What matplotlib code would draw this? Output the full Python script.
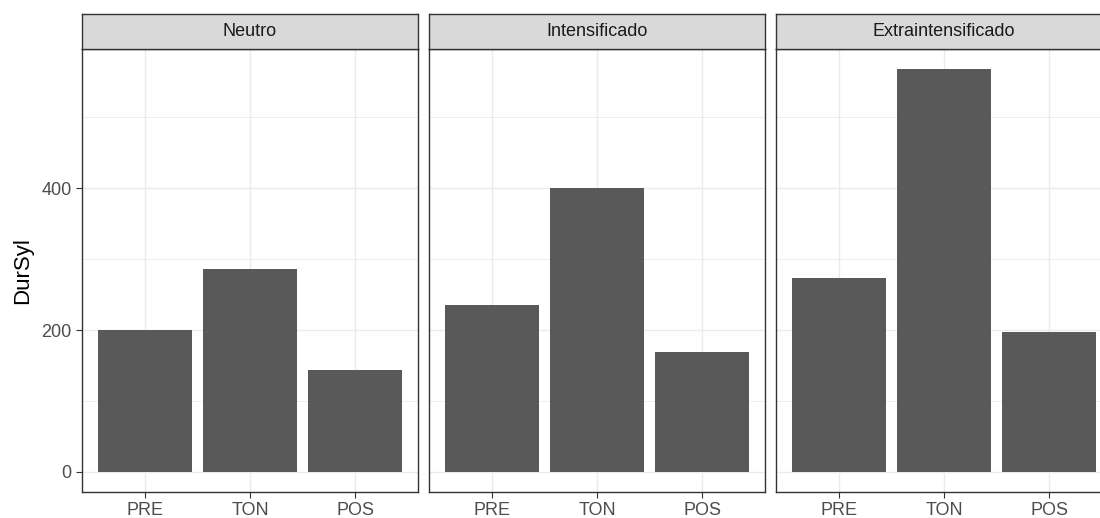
import matplotlib
matplotlib.use("Agg")
import matplotlib.pyplot as plt
from matplotlib.ticker import MultipleLocator

panels = ["Neutro", "Intensificado", "Extraintensificado"]
positions = ["PRE", "TON", "POS"]
neutro = [200, 286, 143]
intensificado = [235, 400, 169]
extraintensificado = [273, 568, 197]
values = [neutro, intensificado, extraintensificado]

plt.rcParams['font.family'] = ['Liberation Sans', 'DejaVu Sans']

W, H = 1100, 518
fig = plt.figure(figsize=(W / 100, H / 100), dpi=100)

lefts = [82, 429, 776]
pw = 336
ptop, pbot = 49, 492
stop = 14

ymax = max(max(v) for v in values)
ylo, yhi = -0.05 * ymax, 1.05 * ymax

for i, (name, vals) in enumerate(zip(panels, values)):
    ax = fig.add_axes([lefts[i] / W, (H - pbot) / H, pw / W, (pbot - ptop) / H])
    x = list(range(1, len(positions) + 1))
    ax.bar(x, vals, width=0.9, color="#595959", zorder=3)
    ax.set_xlim(0.4, len(positions) + 0.6)
    ax.set_ylim(ylo, yhi)
    ax.set_xticks(x)
    ax.set_xticklabels(positions)
    ax.yaxis.set_major_locator(MultipleLocator(200))
    ax.yaxis.set_minor_locator(MultipleLocator(100))
    ax.grid(True, which="major", color="#ebebeb", lw=1.0, zorder=0)
    ax.grid(True, which="minor", axis="y", color="#ebebeb", lw=0.6, zorder=0)
    ax.set_axisbelow(True)
    for s in ax.spines.values():
        s.set_color("#333333")
        s.set_linewidth(1.0)
    ax.tick_params(axis="both", which="major", colors="#333333", length=4.5, width=0.8,
                   labelsize=13, labelcolor="#4d4d4d", pad=3)
    ax.tick_params(axis="y", which="minor", length=0)
    if i == 0:
        ax.set_ylabel("DurSyl", fontsize=16, color="black", labelpad=6)
    else:
        ax.tick_params(axis="y", which="both", left=False, labelleft=False)

    sax = fig.add_axes([lefts[i] / W, (H - ptop) / H, pw / W, (ptop - stop) / H])
    sax.set_facecolor("#d9d9d9")
    sax.set_xticks([])
    sax.set_yticks([])
    for s in sax.spines.values():
        s.set_color("#333333")
        s.set_linewidth(1.0)
    sax.text(0.5, 0.5, name, ha="center", va="center", fontsize=13, color="#1a1a1a",
             transform=sax.transAxes)

fig.savefig("out.png", dpi=100)
